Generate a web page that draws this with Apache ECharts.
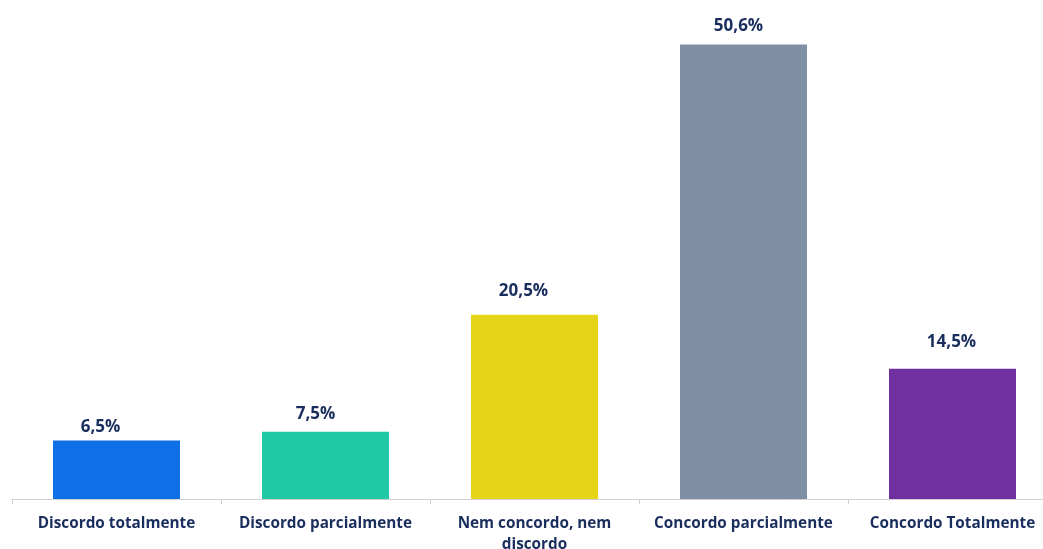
<!DOCTYPE html>
<html>
<head>
<meta charset="utf-8">
<script src="https://cdn.jsdelivr.net/npm/echarts@6/dist/echarts.min.js"></script>
<style>
  html, body { margin: 0; padding: 0; background: #ffffff; }
  #chart { width: 1043px; height: 549px; }
</style>
</head>
<body>
<div id="chart"></div>
<script>
// Survey answers: share of respondents per level of agreement
const categories = ['Discordo totalmente', 'Discordo parcialmente', 'Nem concordo, nem\ndiscordo', 'Concordo parcialmente', 'Concordo Totalmente'];
const values = [6.5, 7.5, 20.5, 50.6, 14.5];
const colors = ['#0e6fe6', '#20c9a5', '#e5d418', '#7f90a5', '#7030a0'];
// hand-placed nudges for the value labels, in px [dx, dy]
const labelNudges = [[-16, 0], [-10, -4], [-11, -10], [-5, -5], [-1, -13]];

const textColor = '#1a2e5e';
const chart = echarts.init(document.getElementById('chart'));

chart.setOption({
  animation: false,
  grid: { left: 12, top: 5, width: 1045, height: 494, containLabel: false, outerBoundsMode: 'none' },
  xAxis: {
    type: 'category',
    data: categories,
    axisLine: { lineStyle: { color: '#d0d0d0', width: 1 } },
    axisTick: { show: true, length: 5, lineStyle: { color: '#d0d0d0' } },
    axisLabel: {
      interval: 0,
      margin: 14,
      color: textColor,
      fontFamily: 'Open Sans',
      fontWeight: 'bold',
      fontSize: 15.3,
      lineHeight: 21
    }
  },
  yAxis: {
    type: 'value',
    min: 0,
    max: 55,
    show: false,
    splitLine: { show: false }
  },
  series: [{
    type: 'bar',
    data: values.map((v, i) => ({
      value: v,
      itemStyle: { color: colors[i] },
      label: { offset: labelNudges[i] }
    })),
    barWidth: 127,
    label: {
      show: true,
      position: 'top',
      distance: 5,
      color: textColor,
      fontFamily: 'Open Sans',
      fontWeight: 'bold',
      fontSize: 17,
      formatter: p => p.value.toFixed(1).replace('.', ',') + '%'
    }
  }]
});
</script>
</body>
</html>
